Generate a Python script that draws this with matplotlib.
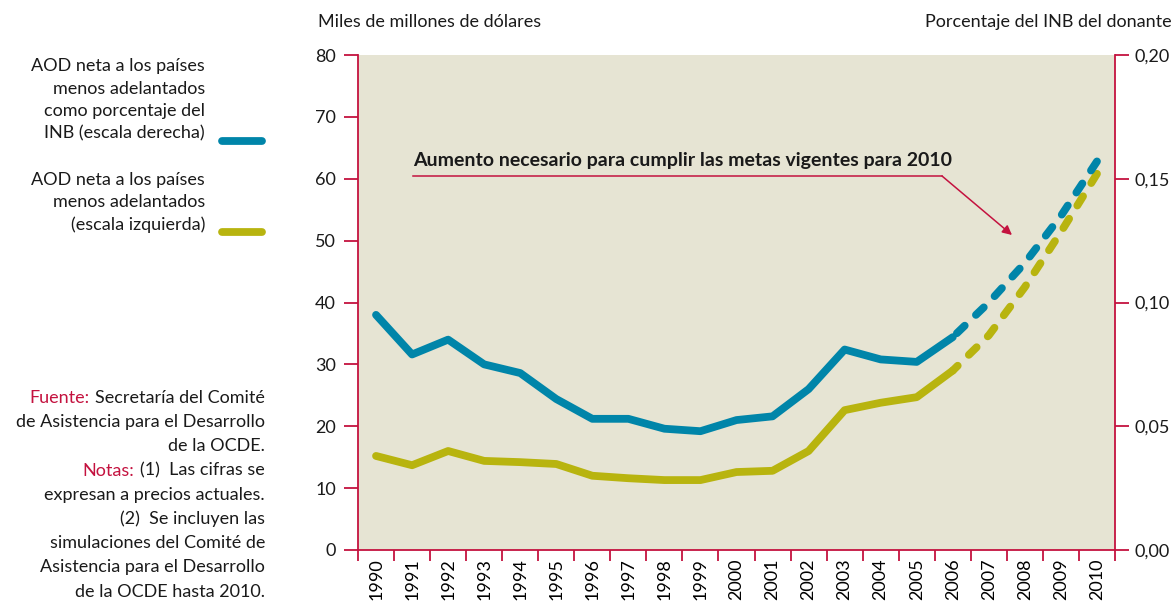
import matplotlib

matplotlib.use("Agg")
import matplotlib.pyplot as plt
from matplotlib.lines import Line2D
from matplotlib.ticker import FixedLocator, FuncFormatter

# ── Data ─────────────────────────────────────────────────────────────────────

years = [str(y) for y in range(1990, 2011)]
# AOD neta a los PMA, miles de millones de USD (escala izquierda)
aod_usd = [15.2, 13.7, 16.0, 14.4, 14.2, 13.9, 12.0, 11.6, 11.3, 11.3, 12.6,
           12.8, 16.0, 22.6, 23.8, 24.7, 29.0, 34.7, 42.5, 51.4, 60.8]
# AOD neta a los PMA, % del INB del donante (escala derecha)
aod_pct = [0.095, 0.079, 0.085, 0.075, 0.0715, 0.061, 0.053, 0.053, 0.049,
           0.048, 0.0525, 0.054, 0.065, 0.081, 0.077, 0.076, 0.086, 0.100,
           0.116, 0.135, 0.157]
last_actual = "2006"  # simulaciones del CAD a partir de aquí

left_ticks = [0, 10, 20, 30, 40, 50, 60, 70, 80]
right_ticks = [0.0, 0.05, 0.10, 0.15, 0.20]

# ── Style ────────────────────────────────────────────────────────────────────

W, H = 1175, 601
RED = "#c4123f"
BLUE = "#0085a9"
OLIVE = "#b8b40f"
BEIGE = "#e6e4d3"
INK = "#1a1a1a"
FS = 13

plt.rcParams["font.family"] = ["Lato", "DejaVu Sans"]
plt.rcParams["text.color"] = INK


def px(x, y):
    """Pixel position (top-left origin) -> figure fraction."""
    return x / W, 1 - y / H


fig = plt.figure(figsize=(W / 100, H / 100), dpi=100)
ax = fig.add_axes([358 / W, 51 / H, (1115 - 358) / W, (550 - 55) / H])
ax2 = ax.twinx()

x = list(range(len(years)))
k = years.index(last_actual)

line_kw = dict(lw=5.6, solid_capstyle="round", solid_joinstyle="round",
               dash_capstyle="round")
dash = (0, (1.4, 2.0))

# dashed part drawn from 2010 backwards so it ends on a full dash
ax.plot(x[: k + 1], aod_usd[: k + 1], color=OLIVE, **line_kw)
ax.plot(x[k:][::-1], aod_usd[k:][::-1], color=OLIVE, ls=dash, **line_kw)
ax2.plot(x[: k + 1], aod_pct[: k + 1], color=BLUE, **line_kw)
ax2.plot(x[k:][::-1], aod_pct[k:][::-1], color=BLUE, ls=dash, **line_kw)

ax.set_facecolor(BEIGE)
ax.set_xlim(-0.5, len(years) - 0.5)
ax.set_ylim(0, 80)
ax2.set_ylim(0, 0.20)

for a in (ax, ax2):
    for s in a.spines.values():
        s.set_visible(False)
ax.spines["left"].set_visible(True)
ax.spines["bottom"].set_visible(True)
ax2.spines["right"].set_visible(True)
for s in (ax.spines["left"], ax.spines["bottom"], ax2.spines["right"]):
    s.set_color(RED)
    s.set_linewidth(1.3)

ax.yaxis.set_major_locator(FixedLocator(left_ticks))
ax.tick_params(axis="y", direction="out", length=10, width=1.3, color=RED,
               labelsize=FS, pad=6, labelcolor=INK)
ax2.yaxis.set_major_locator(FixedLocator(right_ticks))
ax2.yaxis.set_major_formatter(FuncFormatter(lambda v, _: f"{v:.2f}".replace(".", ",")))
ax2.tick_params(axis="y", direction="out", length=10, width=1.3, color=RED,
                labelsize=FS, pad=4, labelcolor=INK)

ax.set_xticks(x)
ax.set_xticklabels(years, rotation=90, fontsize=FS)
ax.set_xticks([i - 0.5 for i in range(len(years) + 1)], minor=True)
ax.tick_params(axis="x", which="major", length=0, pad=6)
ax.tick_params(axis="x", which="minor", direction="out", length=8, width=1.3,
               color=RED)
ax2.tick_params(axis="x", which="both", length=0)

# Axis titles
fig.text(*px(318, 22), "Miles de millones de dólares", fontsize=FS,
         ha="left", va="center")
fig.text(*px(1172, 22), "Porcentaje del INB del donante", fontsize=FS,
         ha="right", va="center")

# Annotation
ux0, ux1 = (413 - 376) / 36.05, (942 - 376) / 36.05
uy = (550 - 176) / 6.1875
ax.text(ux0, uy + 1.1, "Aumento necesario para cumplir las metas vigentes para 2010",
        fontsize=14, fontweight="bold", ha="left", va="bottom")
ax.plot([ux0, ux1], [uy, uy], color=RED, lw=1.1)
ax.annotate("", xy=((1012 - 376) / 36.05, (550 - 235) / 6.1875), xytext=(ux1, uy),
            arrowprops=dict(arrowstyle="-|>", color=RED, lw=1.1,
                            mutation_scale=14, shrinkA=0, shrinkB=0))

# Legend
legend_blocks = [
    (["AOD neta a los países", "menos adelantados", "como porcentaje del",
      "INB (escala derecha)"], 66, BLUE),
    (["AOD neta a los países", "menos adelantados", "(escala izquierda)"], 180, OLIVE),
]
for lines, y0, col in legend_blocks:
    for i, t in enumerate(lines):
        fig.text(*px(205, y0 + i * 22.5), t, fontsize=FS, ha="right", va="center")
    yl = y0 + (len(lines) - 1) * 22.5 + 7
    fig.add_artist(Line2D([222 / W, 262 / W], [1 - yl / H] * 2, color=col,
                          lw=5.6, solid_capstyle="round"))

# Source and notes
notes = [
    ("Fuente:", "Secretaría del Comité"),
    ("", "de Asistencia para el Desarrollo"),
    ("", "de la OCDE."),
    ("Notas:", "(1)  Las cifras se"),
    ("", "expresan a precios actuales."),
    ("", "(2)  Se incluyen las"),
    ("", "simulaciones del Comité de"),
    ("", "Asistencia para el Desarrollo"),
    ("", "de la OCDE hasta 2010."),
]
fig.canvas.draw()
renderer = fig.canvas.get_renderer()
for i, (head, body) in enumerate(notes):
    yy = 398 + i * 24.2
    t = fig.text(*px(265, yy), body, fontsize=FS, ha="right", va="center")
    if head:
        w = t.get_window_extent(renderer).width
        fig.text(*px(265 - w - 6, yy), head, fontsize=FS, ha="right",
                 va="center", color=RED)

fig.savefig("out.png", dpi=100)
